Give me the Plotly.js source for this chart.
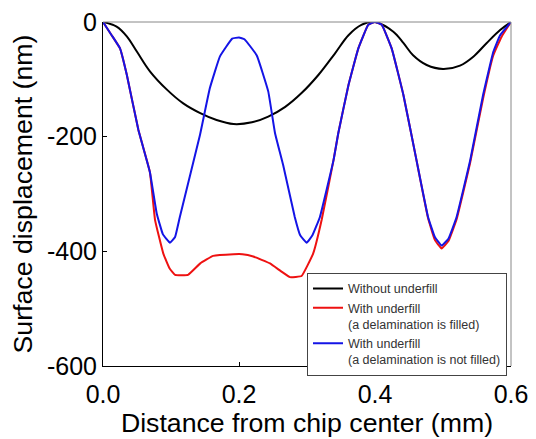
<!DOCTYPE html>
<html>
<head>
<meta charset="utf-8">
<script src="https://cdn.plot.ly/plotly-3.0.1.min.js"></script>
<style>html,body{margin:0;padding:0;background:#fff;}</style>
</head>
<body>
<div id="chart" style="width:536px;height:439px;"></div>
<script>
// Without underfill
var xBlack = [0, 0.02, 0.035, 0.05, 0.069, 0.094, 0.118, 0.143, 0.167, 0.192, 0.219, 0.243, 0.268, 0.292, 0.317, 0.341, 0.361, 0.38, 0.4,
              0.427, 0.442, 0.456, 0.476, 0.5, 0.525, 0.545, 0.564, 0.584, 0.6];
var yBlack = [0, -8, -25, -52, -86, -118, -142, -159, -171, -178, -175, -165, -148, -124, -92, -55, -23, -5, 0,
              -17, -37, -58, -75, -82, -76, -60, -37, -14, 0];

// With underfill (a delamination is filled)
var xRed = [0, 0.0127, 0.025, 0.035, 0.052, 0.069, 0.0765, 0.0887, 0.098, 0.106, 0.125, 0.143, 0.162, 0.192, 0.205, 0.221, 0.2456, 0.262, 0.275, 0.292, 0.309, 0.3216,
            0.339, 0.346, 0.361, 0.3755, 0.39, 0.4, 0.41, 0.4245, 0.4417, 0.461, 0.478, 0.488, 0.498, 0.508, 0.52, 0.54, 0.559, 0.574, 0.586, 0.6];
var yRed = [0, -23, -46, -92, -188, -262, -345, -404, -430, -441, -441, -421, -408, -405, -405, -409, -421, -435, -445, -443, -404, -345,
            -241, -194, -110, -46, -5, 0, -5, -46, -127, -241, -342, -380, -395, -382, -344, -245, -133, -58, -26, 0];

// With underfill (a delamination is not filled)
var xBlue = [0, 0.0127, 0.025, 0.035, 0.052, 0.069, 0.079, 0.088, 0.0985, 0.106, 0.113, 0.1426, 0.157, 0.172, 0.19, 0.2, 0.208, 0.226, 0.243,
             0.253, 0.265, 0.282, 0.29, 0.2995, 0.308, 0.319, 0.339, 0.346, 0.361, 0.3755, 0.39, 0.4, 0.41, 0.4245, 0.4417, 0.461, 0.478, 0.488, 0.498,
             0.508, 0.52, 0.54, 0.559, 0.574, 0.584, 0.6];
var yBlue = [0, -23, -46, -92, -188, -262, -334, -370, -385, -375, -340, -197, -116, -60, -29, -27, -30, -58, -121,
             -194, -250, -340, -372, -385, -372, -340, -241, -194, -110, -46, -5, 0, -5, -46, -127, -241, -340, -375, -390,
             -378, -340, -241, -127, -52, -23, 0];

var seriesNames = ["Without underfill", "With underfill<br>(a delamination is filled)", "With underfill<br>(a delamination is not filled)"];
var xTicks = [0, 0.2, 0.4, 0.6];
var xTickText = ["0.0", "0.2", "0.4", "0.6"];
var yTicks = [0, -200, -400, -600];
var yTickText = ["0", "-200", "-400", "-600"];

var FONT = "Arial, 'Liberation Sans', sans-serif";

var traces = [
  {x: xBlack, y: yBlack, name: seriesNames[0], mode: "lines", line: {color: "#000000", width: 2, shape: "spline", smoothing: 1}},
  {x: xRed, y: yRed, name: seriesNames[1], mode: "lines", line: {color: "#ee1111", width: 2, shape: "spline", smoothing: 0.3}},
  {x: xBlue, y: yBlue, name: seriesNames[2], mode: "lines", line: {color: "#1414e6", width: 2, shape: "spline", smoothing: 0.3}}
];

var layout = {
  width: 536, height: 439,
  margin: {l: 103, r: 25, t: 22, b: 73, pad: 0},
  paper_bgcolor: "#ffffff", plot_bgcolor: "#ffffff",
  font: {family: FONT, color: "#000"},
  showlegend: true,
  legend: {
    x: 0.5, y: 0.271, xanchor: "left", yanchor: "top",
    bgcolor: "#ffffff", bordercolor: "#444", borderwidth: 1,
    font: {family: FONT, size: 12.5, color: "#333"},
    valign: "top", tracegroupgap: 0, itemwidth: 30
  },
  xaxis: {
    range: [0, 0.6], tickvals: xTicks, ticktext: xTickText,
    ticks: "inside", ticklen: 4, tickcolor: "#000",
    showline: true, linecolor: "#000", linewidth: 1, mirror: false,
    showgrid: false, zeroline: false, ticklabelstandoff: 6,
    tickfont: {family: FONT, size: 25, color: "#000"},
    title: {text: "Distance from chip center (mm)", font: {family: FONT, size: 26.7, color: "#000"}, standoff: 2}
  },
  yaxis: {
    range: [-600, 0], tickvals: yTicks, ticktext: yTickText,
    ticks: "inside", ticklen: 4, tickcolor: "#000",
    showline: true, linecolor: "#000", linewidth: 1, mirror: false,
    showgrid: false, zeroline: false,
    tickfont: {family: FONT, size: 25, color: "#000"},
    title: {text: "Surface displacement (nm)", font: {family: FONT, size: 26.7, color: "#000"}, standoff: 6}
  },
  shapes: [
    {type: "line", xref: "paper", yref: "paper", x0: 0, x1: 1, y0: 1, y1: 1, line: {color: "#888", width: 1}},
    {type: "line", xref: "paper", yref: "paper", x0: 1, x1: 1, y0: 0, y1: 1, line: {color: "#888", width: 1}}
  ]
};

Plotly.newPlot("chart", traces, layout, {displayModeBar: false, staticPlot: true});
</script>
</body>
</html>
